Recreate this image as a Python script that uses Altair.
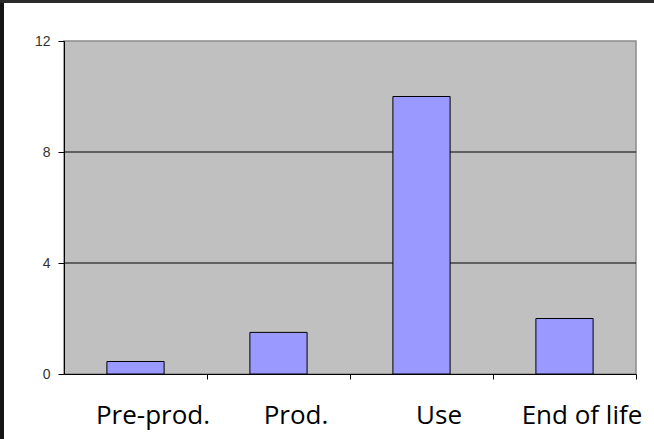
import altair as alt
import pandas as pd

# Life-cycle stages and their values
stages = ["Pre-prod.", "Prod.", "Use", "End of life"]
values = [0.45, 1.5, 10, 2]
y_ticks = [0, 4, 8, 12]
grid_lines = [4, 8]

bars_df = pd.DataFrame({"stage": stages, "value": values})
grid_df = pd.DataFrame({"g": grid_lines})

x_scale = alt.Scale(domain=stages, paddingInner=0.6, paddingOuter=0.3)
y_scale = alt.Scale(domain=[0, 12], nice=False)

# Dark frame strips along the left and top edges of the figure
frame_left = alt.Chart(pd.DataFrame({"k": [0]})).mark_rect(color="#151515").encode(
    x=alt.value(-64), x2=alt.value(-60), y=alt.value(-41), y2=alt.value(400)
)
frame_top = alt.Chart(pd.DataFrame({"k": [0]})).mark_rect(color="#2a2a2a").encode(
    x=alt.value(-64), x2=alt.value(592), y=alt.value(-41), y2=alt.value(-38)
)

grid = alt.Chart(grid_df).mark_rule(color="black", strokeWidth=1).encode(
    y=alt.Y("g:Q", scale=y_scale)
)

bars = alt.Chart(bars_df).mark_bar(
    fill="#9999ff", stroke="black", strokeWidth=1
).encode(
    x=alt.X(
        "stage:N",
        scale=x_scale,
        sort=stages,
        title=None,
        axis=alt.Axis(
            labelAngle=0,
            labelFont="Open Sans",
            labelFontSize=26,
            labelColor="black",
            # ticks sit between categories; labels are pulled back near the bars
            tickOffset=71.5,
            labelOffset=-54.5,
            labelPadding=23,
            tickColor="black",
            tickSize=5,
            domainColor="black",
        ),
    ),
    y=alt.Y(
        "value:Q",
        scale=y_scale,
        title=None,
        axis=alt.Axis(
            values=y_ticks,
            grid=False,
            labelFont="Liberation Sans",
            labelFontSize=14,
            labelColor="#333333",
            labelPadding=8,
            tickColor="black",
            tickSize=6,
            domainColor="black",
        ),
    ),
)

chart = (
    alt.layer(frame_left, frame_top, grid, bars)
    .properties(
        width=572,
        height=333,
        background="white",
        padding={"left": 64, "top": 41, "right": 18, "bottom": 65},
        autosize=alt.AutoSizeParams(type="none"),
    )
    .configure_view(fill="#c0c0c0", stroke="#8a8a8a", strokeWidth=1.5)
)

chart.save("out.html", embed_options={"renderer": "svg", "actions": False})
